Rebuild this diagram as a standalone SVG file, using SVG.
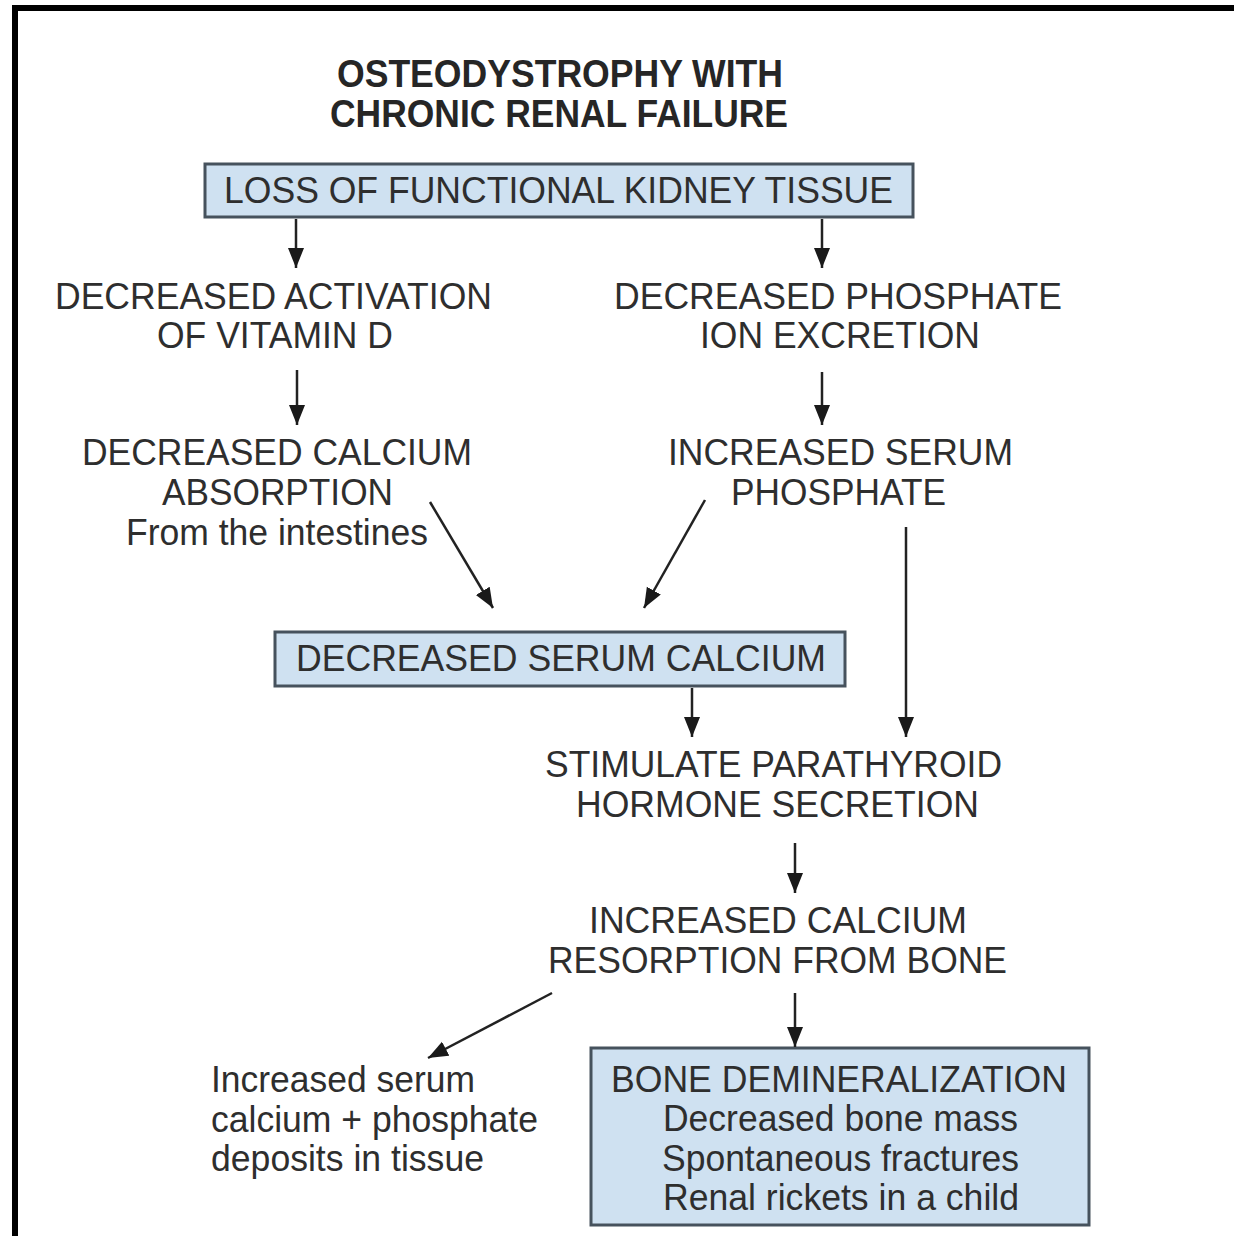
<svg xmlns="http://www.w3.org/2000/svg" width="1234" height="1236" viewBox="0 0 1234 1236">
<style>
.t{font-family:"Liberation Sans",Arial,sans-serif;font-size:37px;fill:#2e2e2e}
.b{font-family:"Liberation Sans",Arial,sans-serif;font-size:38px;font-weight:bold;fill:#262626}
.box{fill:#cfe1f1;stroke:#46525d;stroke-width:3}
.c{stroke:#222;stroke-width:2.5;fill:none;marker-end:url(#ah)}
</style>
<defs>
<marker id="ah" markerUnits="userSpaceOnUse" markerWidth="22" markerHeight="18" refX="20" refY="8" orient="auto">
<path d="M0,0 L20,8 L0,16 Z" fill="#1a1a1a"/>
</marker>
</defs>
<rect x="0" y="0" width="1234" height="1236" fill="#ffffff"/>
<rect x="12" y="5" width="1222" height="6" fill="#000"/>
<rect x="12" y="5" width="6" height="1231" fill="#000"/>
<g id="title">
<text class="b" x="337" y="87" textLength="446" lengthAdjust="spacingAndGlyphs">OSTEODYSTROPHY WITH</text>
<text class="b" x="330" y="127" textLength="458" lengthAdjust="spacingAndGlyphs">CHRONIC RENAL FAILURE</text>
</g>
<g id="loss">
<rect class="box" x="205" y="164" width="708" height="53"/>
<text class="t" x="224" y="203" textLength="669" lengthAdjust="spacingAndGlyphs">LOSS OF FUNCTIONAL KIDNEY TISSUE</text>
</g>
<g id="vitd">
<text class="t" x="55" y="309" textLength="437" lengthAdjust="spacingAndGlyphs">DECREASED ACTIVATION</text>
<text class="t" x="157" y="348" textLength="236" lengthAdjust="spacingAndGlyphs">OF VITAMIN D</text>
</g>
<g id="phosexc">
<text class="t" x="614" y="309" textLength="448" lengthAdjust="spacingAndGlyphs">DECREASED PHOSPHATE</text>
<text class="t" x="700" y="348" textLength="280" lengthAdjust="spacingAndGlyphs">ION EXCRETION</text>
</g>
<g id="caabs">
<text class="t" x="82" y="465" textLength="390" lengthAdjust="spacingAndGlyphs">DECREASED CALCIUM</text>
<text class="t" x="162" y="505" textLength="231" lengthAdjust="spacingAndGlyphs">ABSORPTION</text>
<text class="t" x="126" y="545" textLength="302" lengthAdjust="spacingAndGlyphs">From the intestines</text>
</g>
<g id="serphos">
<text class="t" x="668" y="465" textLength="345" lengthAdjust="spacingAndGlyphs">INCREASED SERUM</text>
<text class="t" x="731" y="505" textLength="215" lengthAdjust="spacingAndGlyphs">PHOSPHATE</text>
</g>
<g id="serca">
<rect class="box" x="275" y="632" width="570" height="54"/>
<text class="t" x="296" y="671" textLength="530" lengthAdjust="spacingAndGlyphs">DECREASED SERUM CALCIUM</text>
</g>
<g id="pth">
<text class="t" x="545" y="777" textLength="457" lengthAdjust="spacingAndGlyphs">STIMULATE PARATHYROID</text>
<text class="t" x="576" y="817" textLength="403" lengthAdjust="spacingAndGlyphs">HORMONE SECRETION</text>
</g>
<g id="resorp">
<text class="t" x="589" y="933" textLength="378" lengthAdjust="spacingAndGlyphs">INCREASED CALCIUM</text>
<text class="t" x="548" y="973" textLength="459" lengthAdjust="spacingAndGlyphs">RESORPTION FROM BONE</text>
</g>
<g id="deposits">
<text class="t" x="211" y="1092" textLength="264" lengthAdjust="spacingAndGlyphs">Increased serum</text>
<text class="t" x="211" y="1132" textLength="327" lengthAdjust="spacingAndGlyphs">calcium + phosphate</text>
<text class="t" x="211" y="1171" textLength="273" lengthAdjust="spacingAndGlyphs">deposits in tissue</text>
</g>
<g id="demin">
<rect class="box" x="591" y="1048" width="498" height="177"/>
<text class="t" x="611" y="1092" textLength="456" lengthAdjust="spacingAndGlyphs">BONE DEMINERALIZATION</text>
<text class="t" x="663" y="1131" textLength="355" lengthAdjust="spacingAndGlyphs">Decreased bone mass</text>
<text class="t" x="662" y="1171" textLength="357" lengthAdjust="spacingAndGlyphs">Spontaneous fractures</text>
<text class="t" x="663" y="1210" textLength="356" lengthAdjust="spacingAndGlyphs">Renal rickets in a child</text>
</g>
<g id="connectors">
<line class="c" x1="296" y1="219" x2="296" y2="268"/>
<line class="c" x1="822" y1="219" x2="822" y2="268"/>
<line class="c" x1="297" y1="370" x2="297" y2="425"/>
<line class="c" x1="822" y1="372" x2="822" y2="425"/>
<line class="c" x1="430" y1="502" x2="493" y2="608"/>
<line class="c" x1="705" y1="500" x2="644" y2="608"/>
<line class="c" x1="692" y1="688" x2="692" y2="737"/>
<line class="c" x1="906" y1="527" x2="906" y2="737"/>
<line class="c" x1="795" y1="843" x2="795" y2="893"/>
<line class="c" x1="552" y1="993" x2="428" y2="1058"/>
<line class="c" x1="795" y1="993" x2="795" y2="1047"/>
</g>
</svg>
